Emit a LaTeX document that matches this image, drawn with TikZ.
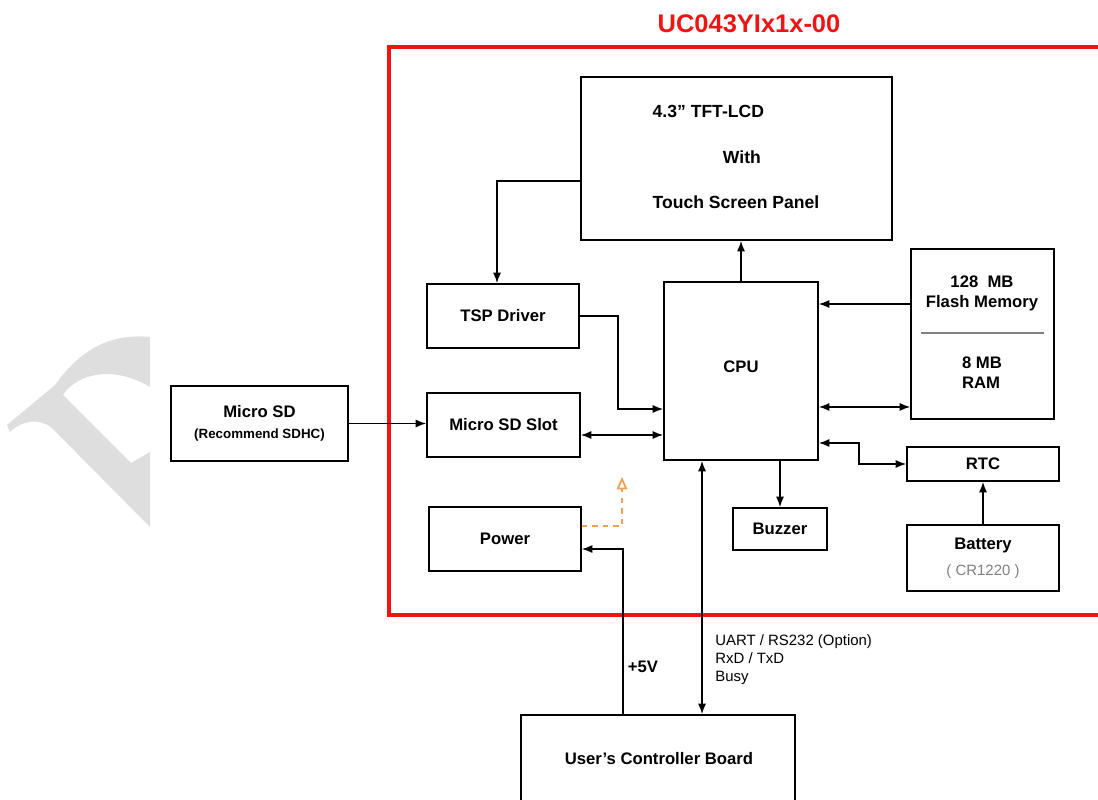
\documentclass[tikz,border=0pt]{standalone}
\usepackage{fontspec}
\setmainfont{Liberation Sans}
\usetikzlibrary{arrows.meta, positioning}
\definecolor{framered}{HTML}{F01414}
\definecolor{pwrorange}{HTML}{F0A050}
\definecolor{markgray}{HTML}{DEDEDE}

\begin{document}
\begin{tikzpicture}[x=0.02cm, y=-0.02cm, >={Latex[length=6pt, width=4.6pt]},
    blk/.style={draw, line width=0.9pt, inner sep=0pt, align=center,
        font=\fontsize{9.5}{11.3}\selectfont\bfseries},
    lbl/.style={inner sep=0pt, align=center, font=\fontsize{9.5}{11.3}\selectfont\bfseries},
    link/.style={line width=0.9pt}]
    \useasboundingbox (0,0) rectangle (1098,800);

    % ── WATERMARK ─────────────────────────────────────────────────────
    \fill[markgray] (150,337) .. controls (110,333) and (80,350) .. (55,385)
        -- (7,425) -- (10,432) .. controls (22,420) and (40,418) .. (52,428)
        -- (150,527) -- (150,452) -- (131,463) -- (63,395)
        .. controls (78,372) and (115,366) .. (150,387) -- cycle;

    % ── MODULE FRAME ──────────────────────────────────────────────────
    \node[font=\fontsize{14.5}{16}\selectfont\bfseries, text=framered] (title) at (749,24) {UC043YIx1x-00};
    \draw[framered, line width=2.4pt] (1120,47) -- (389,47) -- (389,615) -- (1120,615);

    % Blocks
    \node[blk, minimum width=6.22cm, minimum height=3.26cm] (lcd) at (736.5,158.5) {};
    \node[lbl, align=left, font=\fontsize{10}{26}\selectfont\bfseries] (lcdtext) at (736,157)
        {4.3” TFT-LCD\\\hspace*{40pt}With\\Touch Screen Panel};
    \node[blk, minimum width=3.04cm, minimum height=1.28cm] (tsp) at (503,316) {TSP Driver};
    \node[blk, minimum width=3.06cm, minimum height=1.28cm] (slot) at (503.5,425) {Micro SD Slot};
    \node[blk, minimum width=3.04cm, minimum height=1.28cm] (power) at (505,539) {Power};
    \node[blk, minimum width=3.08cm, minimum height=3.56cm] (cpu) at (741,371) {};
    \node[lbl] (cputext) at (741,367) {CPU};
    \node[blk, minimum width=2.86cm, minimum height=3.40cm] (mem) at (982.5,334) {};
    \node[lbl] (flash) at (982,293) {128~ MB\\Flash Memory};
    \node[lbl, align=left] (ram) at (982,373) {8 MB\\RAM};
    \draw[gray, line width=0.6pt] (921,333) -- (1044,333);
    \node[blk, minimum width=3.04cm, minimum height=0.68cm] (rtc) at (983,464) {RTC};
    \node[blk, minimum width=3.04cm, minimum height=1.32cm] (battery) at (983,558)
        {Battery\\[3.5pt]{\fontsize{8.5}{10}\selectfont\mdseries\color{gray}( CR1220 )}};
    \node[blk, minimum width=1.88cm, minimum height=0.84cm] (buzzer) at (780,529) {Buzzer};

    % ── OUTSIDE ───────────────────────────────────────────────────────
    \node[blk, line width=1.4pt, minimum width=3.54cm, minimum height=1.50cm] (microsd) at (259.5,423.5)
        {Micro SD\\[1pt]{\fontsize{7.6}{9}\selectfont (Recommend SDHC)}};
    \node[blk, minimum width=5.48cm, minimum height=1.80cm] (board) at (658,760) {};
    \node[lbl] (boardtext) at (659,759) {User’s Controller Board};

    % Connectors
    \draw[link, ->] ([yshift=-0.45cm]lcd.west) -| ([xshift=-0.12cm]tsp.north);
    \draw[link, ->] (cpu.north) -- (cpu.north |- lcd.south);
    \draw[link, ->] (tsp.east) -- ++(38,0) |- ([yshift=-0.76cm]cpu.west);
    \draw[link, <->] ([yshift=-0.2cm]slot.east) -- ([yshift=-0.2cm]slot.east -| cpu.west);
    \draw[link, ->] (microsd.east) -- (microsd.east -| slot.west);
    \draw[link, ->] ([yshift=0.6cm]mem.west) -- ([yshift=0.6cm]mem.west -| cpu.east);
    \draw[link, <->] ([yshift=-1.46cm]mem.west -| cpu.east) -- ([yshift=-1.46cm]mem.west);
    \draw[link, <->] ([yshift=-1.44cm]cpu.east) -- ++(40,0) |- (rtc.west);
    \draw[link, ->] (battery.north) -- (rtc.south);
    \draw[link, ->] (buzzer.north |- cpu.south) -- (buzzer.north);
    \draw[link, <->] ([xshift=-0.78cm]cpu.south) -- ([xshift=-0.78cm]cpu.south |- board.north);
    \draw[link, ->] ([xshift=-0.7cm]board.north) |- ([yshift=-0.2cm]power.east);

    % Power out (dashed)
    \coordinate (pwrout) at (622,477);
    \draw[pwrorange, line width=1pt, dashed, -{Triangle[open, length=7pt, width=6pt]}]
        ([yshift=0.26cm]power.east) -| (pwrout);

    % Labels
    \node[lbl] (vin) at (643,667) {+5V};
    \node[inner sep=0pt, anchor=north west, align=left, font=\fontsize{8.5}{10.2}\selectfont] (uart) at (715,634)
        {UART / RS232 (Option)\\RxD / TxD\\Busy};
\end{tikzpicture}
\end{document}
